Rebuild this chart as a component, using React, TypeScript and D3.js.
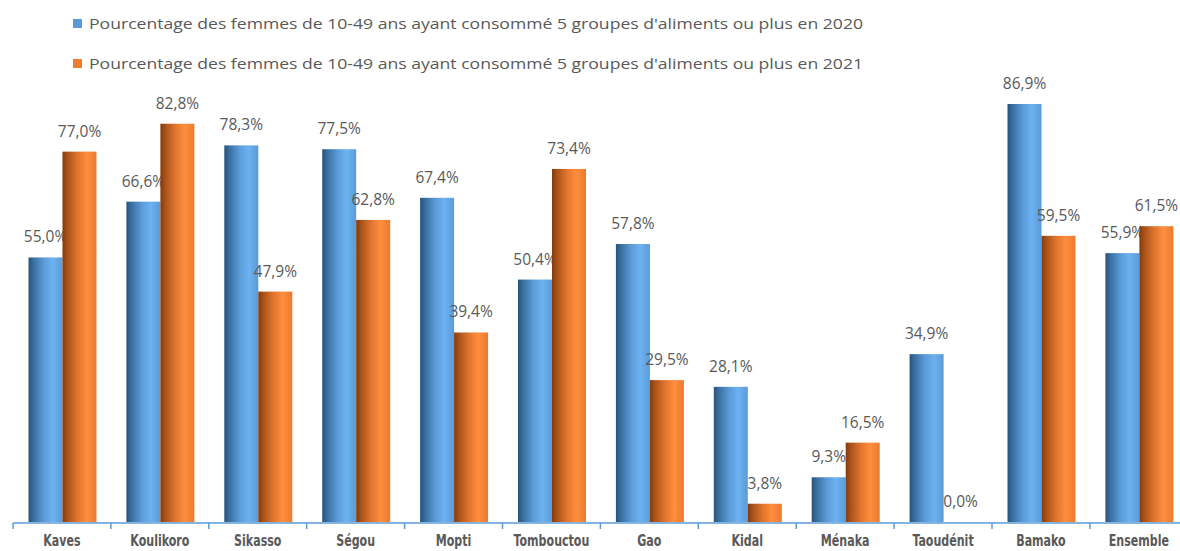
import React from "react";
import * as d3 from "d3";

const categories = ["Kaves", "Koulikoro", "Sikasso", "Ségou", "Mopti", "Tombouctou", "Gao", "Kidal", "Ménaka", "Taoudénit", "Bamako", "Ensemble"];
const values2020 = [55.0, 66.6, 78.3, 77.5, 67.4, 50.4, 57.8, 28.1, 9.3, 34.9, 86.9, 55.9];
const values2021 = [77.0, 82.8, 47.9, 62.8, 39.4, 73.4, 29.5, 3.8, 16.5, 0.0, 59.5, 61.5];
const seriesKeys = ["2020", "2021"];
const legendLabels = [
  "Pourcentage des femmes de 10-49 ans ayant consommé 5 groupes d'aliments ou plus en 2020",
  "Pourcentage des femmes de 10-49 ans ayant consommé 5 groupes d'aliments ou plus en 2021",
];

const W = 1180;
const H = 551;

export default function App() {
  const x0 = d3.scaleBand<string>().domain(categories).range([13, 13 + 12 * 97.9]).padding(0);
  const bw = x0.bandwidth();
  const x1 = d3.scaleBand<string>().domain(seriesKeys).range([15.5, 15.5 + 68]).padding(0);
  const y = d3.scaleLinear().domain([0, 100]).range([522, 41]);
  const series = [values2020, values2021];
  const fills = ["url(#gBlue)", "url(#gOrange)"];
  const legendColors = ["#5b9bd5", "#ed7d31"];
  const fmt = (v: number) => v.toFixed(1).replace(".", ",") + "%";
  const labelFont = "'Open Sans', 'Noto Sans', sans-serif";

  return (
    <svg width={W} height={H} style={{ position: "fixed", left: 0, top: 0, background: "#fff" }}>
      <defs>
        <linearGradient id="gBlue" x1="0" x2="1" y1="0" y2="0">
          <stop offset="0" stopColor="#27537c" />
          <stop offset="0.15" stopColor="#3a6f9f" />
          <stop offset="0.45" stopColor="#5b9bd8" />
          <stop offset="0.72" stopColor="#6db2f2" />
          <stop offset="1" stopColor="#5b9ad6" />
        </linearGradient>
        <linearGradient id="gOrange" x1="0" x2="1" y1="0" y2="0">
          <stop offset="0" stopColor="#843a0c" />
          <stop offset="0.15" stopColor="#a9531a" />
          <stop offset="0.45" stopColor="#e2762f" />
          <stop offset="0.72" stopColor="#ff8e3e" />
          <stop offset="1" stopColor="#ea7a2e" />
        </linearGradient>
      </defs>

      {legendLabels.map((t, i) => (
        <g key={t}>
          <rect x={73} y={19 + i * 40} width={9} height={9} fill={legendColors[i]} />
          <text
            x={89}
            y={28.5 + i * 40}
            fontFamily={labelFont}
            fontSize={15}
            fill="#595959"
            textLength={774}
            lengthAdjust="spacingAndGlyphs"
          >
            {t}
          </text>
        </g>
      ))}

      {categories.map((c, ci) => (
        <g key={c} transform={`translate(${x0(c)},0)`}>
          {seriesKeys.map((k, si) => {
            const v = series[si][ci];
            const bx = x1(k)!;
            const top = y(v);
            return (
              <g key={k}>
                {v > 0 && (
                  <rect x={bx} y={top} width={x1.bandwidth()} height={y(0) - top} fill={fills[si]} />
                )}
                <text
                  x={bx + x1.bandwidth() / 2}
                  y={top - 15}
                  textAnchor="middle"
                  fontFamily={labelFont}
                  fontSize={15.5}
                  fill="#595959"
                >
                  {fmt(v)}
                </text>
              </g>
            );
          })}
        </g>
      ))}

      <line x1={13} x2={W} y1={523} y2={523} stroke="#5b9bd5" strokeWidth={1.5} />
      {d3.range(categories.length + 1).map((i) => (
        <line key={i} x1={13 + i * bw} x2={13 + i * bw} y1={523} y2={529} stroke="#5b9bd5" strokeWidth={1.5} />
      ))}
      {categories.map((c) => (
        <text
          key={c}
          transform={`translate(${x0(c)! + bw / 2},546) scale(0.82,1)`}
          textAnchor="middle"
          fontFamily="'DejaVu Sans Condensed', 'Liberation Sans Narrow', sans-serif"
          fontWeight="bold"
          fontSize={15}
          fill="#595959"
        >
          {c}
        </text>
      ))}
    </svg>
  );
}
